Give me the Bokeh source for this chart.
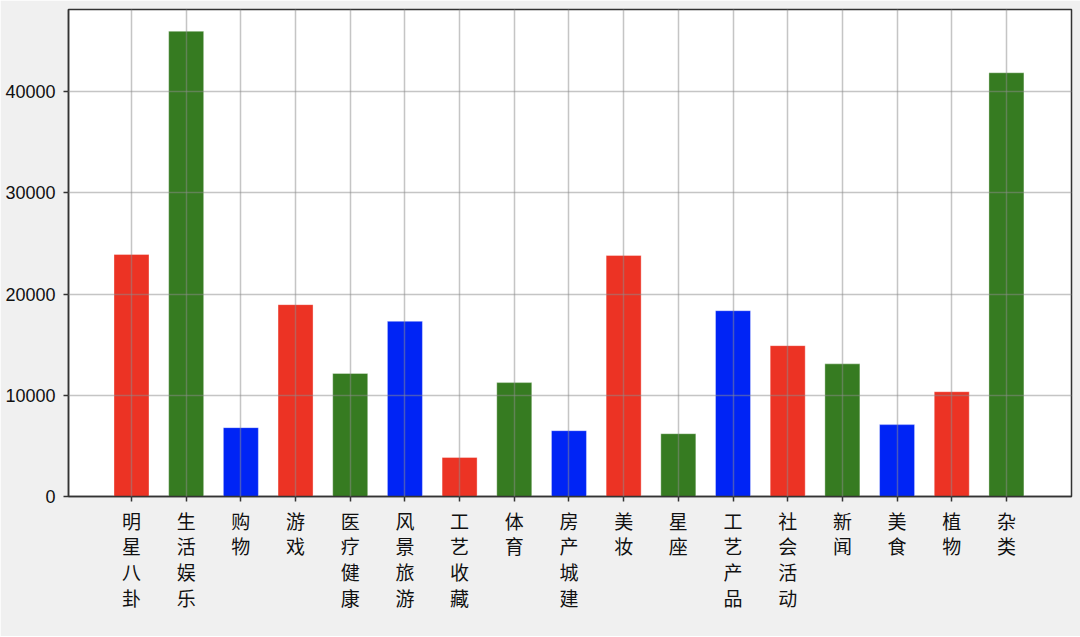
from bokeh.plotting import figure
from bokeh.models import FixedTicker, Range1d, ColumnDataSource
from bokeh.embed import file_html
from bokeh.resources import INLINE

categories = ["明星八卦", "生活娱乐", "购物", "游戏", "医疗健康", "风景旅游", "工艺收藏", "体育",
              "房产城建", "美妆", "星座", "工艺产品", "社会活动", "新闻", "美食", "植物", "杂类"]
values = [23900, 45950, 6800, 18950, 12150, 17300, 3850, 11250,
          6500, 23800, 6200, 18350, 14900, 13100, 7100, 10350, 41850]
color_cycle = ["#ec3324", "#367b21", "#0024f5"]
y_ticks = [0, 10000, 20000, 30000, 40000]

xs = list(range(len(categories)))
colors = [color_cycle[i % 3] for i in xs]
src = ColumnDataSource(dict(x=xs, top=values, color=colors))

p = figure(width=1080, height=636, output_backend="svg", toolbar_location=None,
           x_range=Range1d(-1.152, len(categories) - 1 + 1.19), y_range=Range1d(0, 48100),
           min_border_left=68, min_border_right=9, min_border_top=9, min_border_bottom=140)
p.background_fill_color = "white"
p.border_fill_color = "#f0f0f0"
p.outline_line_color = "#333333"
p.outline_line_width = 1.5

p.vbar(x="x", top="top", width=0.64, fill_color="color", line_color="white", line_alpha=0.35,
       line_width=1, source=src)

p.xaxis.ticker = FixedTicker(ticks=xs)
p.xaxis.major_label_overrides = {i: "\n".join(list(c)) for i, c in enumerate(categories)}
p.yaxis.ticker = FixedTicker(ticks=y_ticks)

for ax in (p.xaxis, p.yaxis):
    ax.axis_line_color = "#333333"
    ax.axis_line_width = 1.5
    ax.major_tick_line_color = "#333333"
    ax.major_tick_line_width = 1.5
    ax.major_tick_out = 5
    ax.major_tick_in = 0
    ax.minor_tick_line_color = None
    ax.major_label_text_color = "#111111"

p.xaxis.major_label_text_font = "Noto Sans CJK SC"
p.xaxis.major_label_text_font_size = "19px"
p.xaxis.major_label_text_line_height = 0.96
p.xaxis.major_label_standoff = 5
p.yaxis.major_label_text_font = "Liberation Sans"
p.yaxis.major_label_text_font_size = "18px"
p.yaxis.major_label_standoff = 8
p.yaxis.formatter.use_scientific = False

for g in (p.xgrid, p.ygrid):
    g.grid_line_color = "#8c8c8c"
    g.grid_line_alpha = 0.5
    g.grid_line_width = 1.5
    g.level = "overlay"
p.xgrid.ticker = FixedTicker(ticks=xs)
p.ygrid.ticker = FixedTicker(ticks=y_ticks)

html = file_html(p, INLINE)
html = html.replace("<body>", '<body style="margin:0;overflow:hidden;background:#f0f0f0">', 1)
open("out.html", "w").write(html)
